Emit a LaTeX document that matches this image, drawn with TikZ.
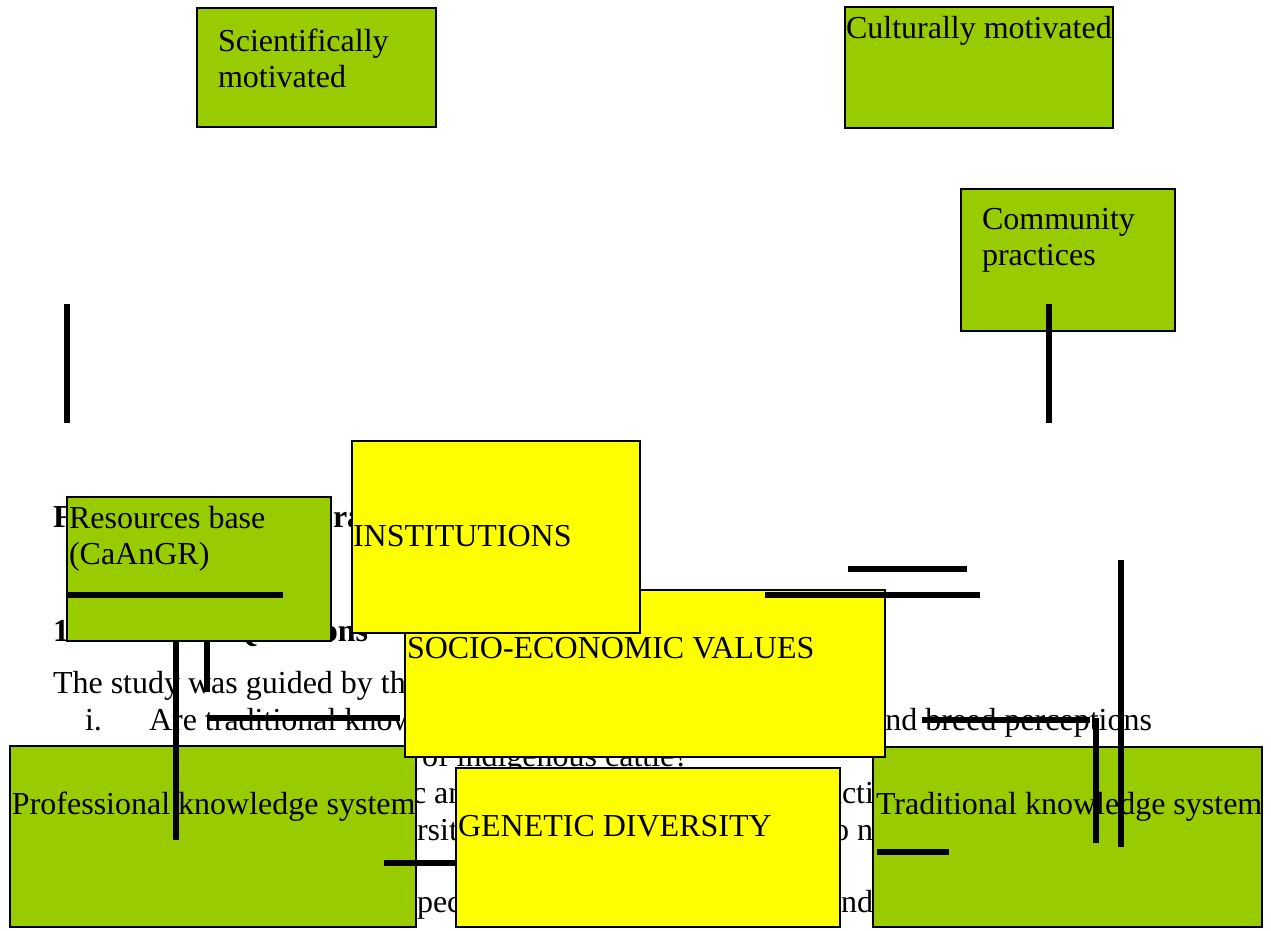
\documentclass[tikz,border=0pt]{standalone}
\usepackage{fontspec}
\setmainfont{Liberation Serif}
\definecolor{boxgreen}{HTML}{99CC00}
\definecolor{boxyellow}{HTML}{FFFF00}
\begin{document}
\begin{tikzpicture}[x=1pt,y=-1pt,
  gbox/.style={draw=black, line width=2pt, fill=boxgreen, inner sep=0pt, outer sep=0pt, anchor=north west},
  ybox/.style={draw=black, line width=2pt, fill=boxyellow, inner sep=0pt, outer sep=0pt, anchor=north west},
  lbl/.style={anchor=base west, inner sep=0pt, outer sep=0pt, font=\fontsize{32}{37}\selectfont},
  lble/.style={anchor=base east, inner sep=0pt, outer sep=0pt, font=\fontsize{32}{37}\selectfont},
  lblb/.style={anchor=base west, inner sep=0pt, outer sep=0pt, font=\fontsize{32}{37}\selectfont\bfseries},
  conn/.style={line width=5.5pt, black}]
\useasboundingbox (0,0) rectangle (1271,930);
\fill[white] (0,0) rectangle (1271,930);

% background document text (partly covered)
\node[lblb] (tF) at (53,527) {F};
\node[lblb] (tra) at (333,527) {ra};
\node[lblb] (t1) at (53,641) {1};
\node[lblb] (tQ) at (233,641) {Questions};
\node[lbl] (tstudy) at (53,693) {The study was guided by th};
\node[lbl] (ti) at (85,730) {i.};
\node[lbl] (tare) at (149,730) {Are traditional know};
\node[lble] (tbreed) at (1152,730) {nd breed perceptions};
\node[lbl] (tof) at (422,766) {of indigenous cattle?};
\node[lbl] (tcan) at (412,803) {c an};
\node[lbl] (tucti) at (826,803) {ucti};
\node[lbl] (trsit) at (417,840) {rsit};
\node[lble] (ton) at (873,840) {o n};
\node[lbl] (tpec) at (417,912) {pec};
\node[lbl] (tnd) at (841,912) {nd};

% boxes
\node[gbox, minimum width=239pt, minimum height=119pt] (sci) at (197,8) {};
\node[gbox, minimum width=268pt, minimum height=121pt] (cult) at (845,7) {};
\node[gbox, minimum width=214pt, minimum height=142pt] (comm) at (961,189) {};
\node[gbox, minimum width=264pt, minimum height=144pt] (res) at (67,497) {};
\node[gbox, minimum width=406pt, minimum height=181pt] (prof) at (10,746) {};
\node[gbox, minimum width=389pt, minimum height=180pt] (trad) at (873,747) {};
\node[ybox, minimum width=384pt, minimum height=159pt] (gen) at (456,768) {};
\node[ybox, minimum width=480pt, minimum height=167pt] (socio) at (405,590) {};
\node[ybox, minimum width=288pt, minimum height=192pt] (inst) at (352,441) {};

% box labels
\node[lbl] (sciA) at (218,51) {Scientifically};
\node[lbl] (sciB) at (218,87) {motivated};
\node[lbl] (cultA) at (846,38) {Culturally motivated};
\node[lbl] (commA) at (982,229) {Community};
\node[lbl] (commB) at (982,265) {practices};
\node[lbl] (resA) at (69,528) {Resources base};
\node[lbl] (resB) at (69,564) {(CaAnGR)};
\node[lbl] (instA) at (353,546) {INSTITUTIONS};
\node[lbl] (socioA) at (407,658) {SOCIO-ECONOMIC VALUES};
\node[lbl] (genA) at (458,836) {GENETIC DIVERSITY};
\node[lbl] (profA) at (12,814) {Professional knowledge system};
\node[lbl] (tradA) at (876,814) {Traditional knowledge system};

% connector fragments
\coordinate (a1) at (67,304);   \coordinate (a2) at (67,423);
\coordinate (b1) at (1049,304); \coordinate (b2) at (1049,423);
\coordinate (c1) at (67,595);   \coordinate (c2) at (283,595);
\coordinate (d1) at (176,641);  \coordinate (d2) at (176,840);
\coordinate (e1) at (207,641);  \coordinate (e2) at (207,692);
\coordinate (f1) at (207,718);  \coordinate (f2) at (400,718);
\coordinate (g1) at (384,863);  \coordinate (g2) at (456,863);
\coordinate (h1) at (848,569);  \coordinate (h2) at (967,569);
\coordinate (i1) at (765,595);  \coordinate (i2) at (980,595);
\coordinate (j1) at (1121,560); \coordinate (j2) at (1121,847);
\coordinate (k1) at (1096,718); \coordinate (k2) at (1096,843);
\coordinate (l1) at (922,720);  \coordinate (l2) at (1090,720);
\coordinate (m1) at (877,852);  \coordinate (m2) at (949,852);
\draw[conn] (a1) -- (a2);
\draw[conn] (b1) -- (b2);
\draw[conn] (c1) -- (c2);
\draw[conn] (d1) -- (d2);
\draw[conn] (e1) -- (e2);
\draw[conn] (f1) -- (f2);
\draw[conn] (g1) -- (g2);
\draw[conn] (h1) -- (h2);
\draw[conn] (i1) -- (i2);
\draw[conn] (j1) -- (j2);
\draw[conn] (k1) -- (k2);
\draw[conn] (l1) -- (l2);
\draw[conn] (m1) -- (m2);
\end{tikzpicture}
\end{document}
